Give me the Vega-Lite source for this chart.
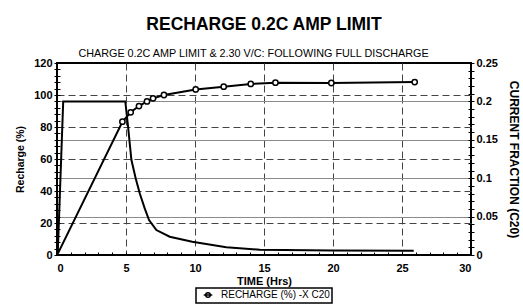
{
  "$schema": "https://vega.github.io/schema/vega-lite/v6.json",
  "width": 414,
  "height": 192,
  "autosize": {"type": "none"},
  "padding": {"left": 57, "top": 63, "right": 52, "bottom": 49},
  "background": "white",
  "title": {
    "text": "RECHARGE 0.2C AMP LIMIT",
    "font": "Liberation Sans",
    "fontSize": 17.5,
    "fontWeight": "bold",
    "color": "black",
    "anchor": "middle",
    "offset": 14
  },
  "config": {
    "font": "Liberation Sans",
    "view": {"stroke": "black", "strokeWidth": 2},
    "axis": {
      "labelFont": "Liberation Sans",
      "labelFontWeight": "bold",
      "labelFontSize": 11,
      "labelColor": "black",
      "titleFont": "Liberation Sans",
      "titleFontWeight": "bold",
      "titleColor": "black",
      "tickColor": "black",
      "tickWidth": 1,
      "domain": false
    },
    "legend": {"strokeWidth": 1.5}
  },
  "datasets": {
    "recharge": [
      {"t": 0.07, "pct": 1},
      {"t": 4.74, "pct": 83.3},
      {"t": 5.34, "pct": 89.2},
      {"t": 5.94, "pct": 93.1},
      {"t": 6.52, "pct": 96},
      {"t": 6.96, "pct": 97.9},
      {"t": 7.75, "pct": 100},
      {"t": 10.05, "pct": 103.5},
      {"t": 12.08, "pct": 105.2},
      {"t": 14.04, "pct": 106.9},
      {"t": 15.83, "pct": 107.7},
      {"t": 19.88, "pct": 107.5},
      {"t": 25.92, "pct": 108.1}
    ],
    "current": [
      {"t": 0.05, "frac": 0},
      {"t": 0.45, "frac": 0.2},
      {"t": 4.95, "frac": 0.2},
      {"t": 5.15, "frac": 0.167},
      {"t": 5.39, "frac": 0.124},
      {"t": 5.7, "frac": 0.1},
      {"t": 6.0, "frac": 0.08},
      {"t": 6.35, "frac": 0.061},
      {"t": 6.67, "frac": 0.0456},
      {"t": 7.2, "frac": 0.0325},
      {"t": 8.17, "frac": 0.0238},
      {"t": 9.8, "frac": 0.0173},
      {"t": 12.27, "frac": 0.01},
      {"t": 14.7, "frac": 0.0068},
      {"t": 20, "frac": 0.006},
      {"t": 25.85, "frac": 0.0056}
    ]
  },
  "layer": [
    {
      "data": {"name": "current"},
      "mark": {"type": "line", "color": "black", "strokeWidth": 2},
      "encoding": {
        "x": {"field": "t", "type": "quantitative", "scale": {"domain": [0, 30]}, "axis": null},
        "y": {
          "field": "frac",
          "type": "quantitative",
          "scale": {"domain": [0, 0.25]},
          "axis": {
            "orient": "right",
            "title": "CURRENT FRACTION (C20)",
            "titleFontSize": 12,
            "titlePadding": 9,
            "offset": -3,
            "tickSize": 6,
            "labelPadding": 2,
            "format": "~g",
            "values": [0, 0.01, 0.02, 0.03, 0.04, 0.05, 0.06, 0.07, 0.08, 0.09, 0.1, 0.11, 0.12, 0.13, 0.14, 0.15, 0.16, 0.17, 0.18, 0.19, 0.2, 0.21, 0.22, 0.23, 0.24, 0.25],
            "labelExpr": "round(datum.value * 100) % 5 == 0 ? datum.label : ''",
            "grid": true,
            "gridColor": "#8a8a8a",
            "gridWidth": 1,
            "gridOpacity": {"condition": {"test": "round(datum.value * 100) % 5 == 0 && datum.value > 0.001 && datum.value < 0.249", "value": 1}, "value": 0}
          }
        }
      }
    },
    {
      "data": {"name": "recharge"},
      "mark": {"type": "line", "strokeWidth": 2},
      "encoding": {
        "x": {
          "field": "t",
          "type": "quantitative",
          "scale": {"domain": [0, 30]},
          "axis": {
            "title": "TIME (Hrs)",
            "titleFontSize": 11,
            "titlePadding": 2,
            "offset": -3,
            "tickSize": 3,
            "labelPadding": 7,
            "values": [0, 1, 2, 3, 4, 5, 6, 7, 8, 9, 10, 11, 12, 13, 14, 15, 16, 17, 18, 19, 20, 21, 22, 23, 24, 25, 26, 27, 28, 29, 30],
            "labelExpr": "datum.value % 5 == 0 ? datum.label : ''",
            "grid": true,
            "gridColor": "#444444",
            "gridDash": [7, 4],
            "gridOpacity": {"condition": {"test": "datum.value % 5 == 0 && datum.value > 0 && datum.value < 30", "value": 1}, "value": 0}
          }
        },
        "y": {
          "field": "pct",
          "type": "quantitative",
          "scale": {"domain": [0, 120]},
          "axis": {
            "title": "Recharge (%)",
            "titleFontSize": 10.5,
            "titlePadding": 8,
            "offset": -3,
            "tickSize": 6,
            "labelPadding": 2,
            "values": [0, 4, 8, 12, 16, 20, 24, 28, 32, 36, 40, 44, 48, 52, 56, 60, 64, 68, 72, 76, 80, 84, 88, 92, 96, 100, 104, 108, 112, 116, 120],
            "labelExpr": "datum.value % 20 == 0 ? datum.label : ''",
            "grid": true,
            "gridColor": "#444444",
            "gridDash": [7, 4],
            "gridOpacity": {"condition": {"test": "datum.value % 20 == 0 && datum.value > 0 && datum.value < 120", "value": 1}, "value": 0}
          }
        },
        "color": {
          "datum": "RECHARGE (%) -X C20",
          "type": "nominal",
          "scale": {"range": ["black"]},
          "legend": {
            "title": null,
            "orient": "none",
            "legendX": 139,
            "legendY": 225,
            "strokeColor": "black",
            "padding": 2,
            "symbolOffset": 5,
            "labelFont": "Liberation Sans",
            "labelFontSize": 10,
            "labelColor": "black",
            "labelOffset": 8,
            "symbolType": "M-1.2,0L1.2,0M-0.65,0A0.65,0.65,0,1,1,0.65,0A0.65,0.65,0,1,1,-0.65,0Z",
            "symbolSize": 50,
            "symbolStrokeWidth": 1.5,
            "symbolStrokeColor": "black",
            "symbolFillColor": "white"
          }
        }
      }
    },
    {
      "data": {"name": "recharge"},
      "transform": [{"filter": "datum.t > 1"}],
      "mark": {"type": "point", "filled": false, "fill": "white", "strokeWidth": 1.5, "size": 28, "opacity": 1},
      "encoding": {
        "x": {
          "field": "t",
          "type": "quantitative",
          "scale": {"domain": [0, 30]},
          "axis": {
            "orient": "top",
            "title": "CHARGE 0.2C AMP LIMIT & 2.30 V/C: FOLLOWING FULL DISCHARGE",
            "titleFontSize": 10.8,
            "titleFontWeight": "normal",
            "titleX": 196,
            "titlePadding": 5,
            "labels": false,
            "ticks": false,
            "grid": false
          }
        },
        "y": {"field": "pct", "type": "quantitative", "scale": {"domain": [0, 120]}, "axis": null},
        "color": {"datum": "RECHARGE (%) -X C20", "type": "nominal"}
      }
    }
  ],
  "resolve": {
    "scale": {"y": "independent"},
    "axis": {"x": "independent", "y": "independent"}
  }
}
